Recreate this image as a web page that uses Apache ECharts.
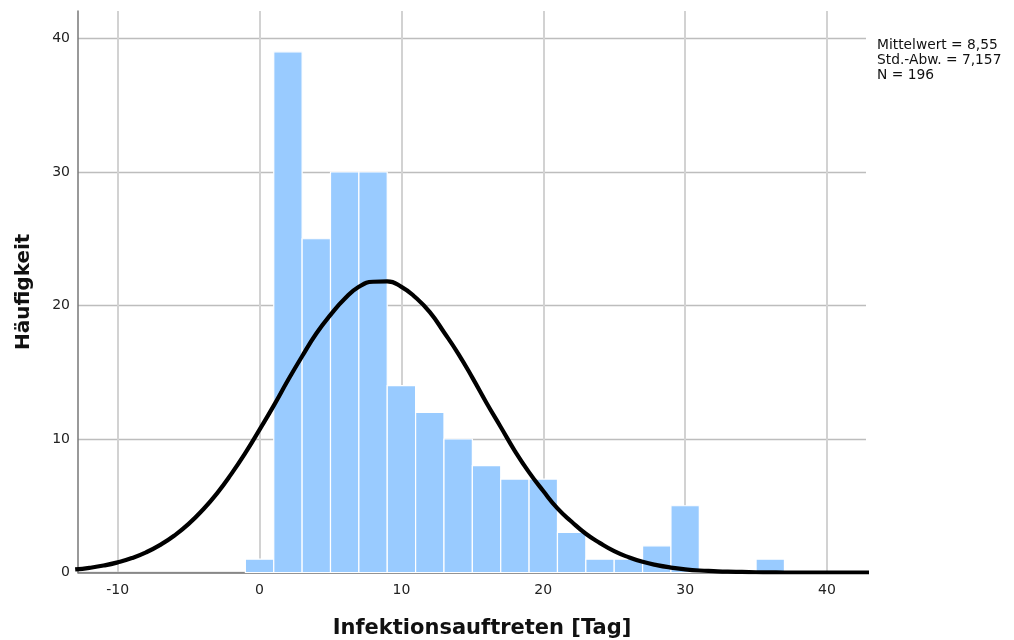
<!DOCTYPE html>
<html>
<head>
<meta charset="utf-8">
<script src="https://cdn.jsdelivr.net/npm/echarts@6/dist/echarts.min.js"></script>
<style>
html,body{margin:0;padding:0;background:#fff;}
#chart{width:1014px;height:640px;}
</style>
</head>
<body>
<div id="chart"></div>
<script>
// Histogram bins (centers, width) and counts
const binCenters = [0, 2, 4, 6, 8, 10, 12, 14, 16, 18, 20, 22, 24, 26, 28, 30, 32, 34, 36];
const binCounts  = [1, 39, 25, 30, 30, 14, 12, 10, 8, 7, 7, 3, 1, 1, 2, 5, 0, 0, 1];
const binWidth = 2;

// Normal curve points (one per day)
const curveX = [-13, -12, -11, -10, -9, -8, -7, -6, -5, -4, -3, -2, -1, 0, 1, 2, 3, 4, 5, 6, 7, 8, 9, 10,
                11, 12, 13, 14, 15, 16, 17, 18, 19, 20, 21, 22, 23, 24, 25, 26, 27, 28, 29, 30,
                31, 32, 33, 34, 35, 36, 37, 38, 39, 40, 41, 42, 43];
const curveY = [0.23, 0.35, 0.52, 0.76, 1.08, 1.51, 2.07, 2.77, 3.64, 4.7, 5.93, 7.37, 8.96, 10.7, 12.5, 14.4, 16.2, 17.9, 19.3, 20.5, 21.4, 21.78, 21.8, 21.4,
                20.6, 19.5, 18.0, 16.4, 14.6, 12.7, 10.9, 9.1, 7.5, 6.1, 4.8, 3.8, 2.9, 2.2, 1.6, 1.15, 0.8, 0.55, 0.37, 0.24,
                0.15, 0.1, 0.06, 0.04, 0.02, 0.01, 0, 0, 0, 0, 0, 0, 0];

// Axis ranges and labels
const xMin = -12.8, xMax = 42.75;
const yMin = 0, yMax = 42.06;
const xTitle = 'Infektionsauftreten [Tag]';
const yTitle = 'Häufigkeit';
const statLines = ['Mittelwert = 8,55', 'Std.-Abw. = 7,157', 'N = 196'];

const chart = echarts.init(document.getElementById('chart'), null, {renderer: 'canvas'});

const barData = binCenters.map((c, i) => [c - binWidth / 2, c + binWidth / 2, binCounts[i]]);
const curveData = curveX.map((x, i) => [x, curveY[i]]);

const font = '"DejaVu Sans", sans-serif';

chart.setOption({
  animation: false,
  grid: {left: 78, right: 148, top: 11, bottom: 67.5, containLabel: false, outerBoundsMode: 'none'},
  xAxis: {
    type: 'value', min: xMin, max: xMax,
    name: xTitle, nameLocation: 'middle', nameGap: 46,
    nameTextStyle: {fontFamily: font, fontWeight: 'bold', fontSize: 21, color: '#111', padding: [0, 0, 0, 20]},
    axisLine: {show: true, onZero: false, lineStyle: {color: '#777', width: 1.5}},
    axisTick: {show: false},
    axisLabel: {fontFamily: font, fontSize: 14, color: '#222', margin: 11, showMinLabel: false, showMaxLabel: false},
    splitLine: {show: true, showMinLine: false, showMaxLine: false, lineStyle: {color: '#d2d2d2', width: 2}}
  },
  yAxis: {
    type: 'value', min: yMin, max: yMax, interval: 10,
    name: yTitle, nameLocation: 'middle', nameGap: 44, nameRotate: 90,
    nameTextStyle: {fontFamily: font, fontWeight: 'bold', fontSize: 20, color: '#111'},
    axisLine: {show: true, onZero: false, lineStyle: {color: '#777', width: 1.5}},
    axisTick: {show: false},
    axisLabel: {fontFamily: font, fontSize: 14, color: '#222', margin: 8, showMaxLabel: false},
    splitLine: {show: true, showMaxLine: false, lineStyle: {color: '#bdbdbd', width: 1.3}}
  },
  series: [
    {
      type: 'custom',
      data: barData,
      z: 2,
      renderItem: function (params, api) {
        const p0 = api.coord([api.value(0), api.value(2)]);
        const p1 = api.coord([api.value(1), 0]);
        return {
          type: 'rect',
          shape: {x: p0[0], y: p0[1], width: p1[0] - p0[0], height: p1[1] - p0[1]},
          style: {fill: '#99cbff', stroke: '#ffffff', lineWidth: 1.2}
        };
      }
    },
    {
      type: 'line',
      data: curveData,
      smooth: 0.5,
      showSymbol: false,
      clip: true,
      z: 5,
      lineStyle: {color: '#000', width: 4.2}
    }
  ],
  graphic: [{
    type: 'text', left: 877, top: 38, z: 10,
    style: {text: statLines.join('\n'), fontFamily: font, fontSize: 13.8, lineHeight: 15, fill: '#111'}
  }]
});
</script>
</body>
</html>
